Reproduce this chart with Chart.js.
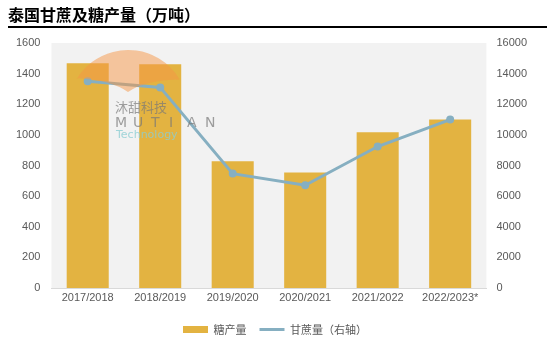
<!DOCTYPE html>
<html>
<head>
<meta charset="utf-8">
<script src="https://cdn.jsdelivr.net/npm/chart.js@4/dist/chart.umd.min.js"></script>
<style>
  body { margin: 0; background: #fff; }
  #wrap { position: relative; width: 547px; height: 346px; }
  #title {
    position: absolute; left: 8px; top: 3px; right: 0;
    font: bold 16px "Noto Sans CJK SC", sans-serif; color: #000;
    border-bottom: 2px solid #000; padding-bottom: 1px; line-height: 22px;
  }
  canvas { position: absolute; left: 0; top: 0; }
</style>
</head>
<body>
<div id="wrap">
  <canvas id="chart" width="547" height="346"></canvas>
  <div id="title">泰国甘蔗及糖产量（万吨）</div>
</div>
<script>
// data
const seasons = ["2017/2018", "2018/2019", "2019/2020", "2020/2021", "2021/2022", "2022/2023*"];
const sugarOutput = [1468, 1461, 827, 755, 1017, 1101];      // 糖产量, left axis
const caneOutput = [13500, 13100, 7470, 6710, 9240, 11000];  // 甘蔗量, right axis

const barColor = "#E3B341";
const lineColor = "#86AFC1";
const tickColor = "#595959";

// grey plot background
const plotBg = {
  id: "plotBg",
  beforeDraw(chart) {
    const { ctx, chartArea: a } = chart;
    ctx.save();
    ctx.fillStyle = "#F2F2F2";
    ctx.fillRect(a.left, a.top, a.right - a.left, a.bottom - a.top);
    ctx.restore();
  },
};

// nudge the legend a little to the right, like the original
const legendShift = {
  id: "legendShift",
  afterLayout(chart) {
    chart.legend.left += 4;
    chart.legend.right += 4;
  },
};

// faint company watermark on top of the bars
const watermark = {
  id: "watermark",
  afterDatasetsDraw(chart) {
    const ctx = chart.ctx;
    ctx.save();
    ctx.fillStyle = "rgba(246,150,70,0.5)";
    ctx.beginPath();
    ctx.arc(128, 110, 60, Math.PI * 1.17, Math.PI * 1.83);
    ctx.quadraticCurveTo(145, 80, 128, 92);
    ctx.quadraticCurveTo(111, 80, 77, 78);
    ctx.closePath();
    ctx.fill();
    ctx.fillStyle = "rgba(120,120,120,0.7)";
    ctx.font = "13px 'Noto Sans CJK SC'";
    ctx.fillText("沐甜科技", 115, 107);
    ctx.font = "14px 'DejaVu Sans'";
    const letters = "MUTIAN";
    for (let i = 0; i < letters.length; i++) {
      ctx.fillText(letters[i], 115 + i * 18, 123);
    }
    ctx.fillStyle = "rgba(140,205,210,0.8)";
    ctx.font = "11px 'DejaVu Sans'";
    ctx.fillText("Technology", 116, 135);
    ctx.restore();
  },
};

new Chart(document.getElementById("chart"), {
  data: {
    labels: seasons,
    datasets: [
      {
        type: "line",
        label: "甘蔗量（右轴）",
        data: caneOutput,
        yAxisID: "y2",
        borderColor: lineColor,
        backgroundColor: lineColor,
        borderWidth: 3,
        pointRadius: 4,
        pointBorderWidth: 0,
        pointBackgroundColor: lineColor,
        tension: 0,
        order: 0,
      },
      {
        type: "bar",
        label: "糖产量",
        data: sugarOutput,
        yAxisID: "y",
        backgroundColor: barColor,
        categoryPercentage: 1,
        barPercentage: 0.58,
        order: 1,
      },
    ],
  },
  plugins: [plotBg, legendShift, watermark],
  options: {
    responsive: false,
    animation: false,
    layout: { padding: { top: 43, right: 10, left: 5, bottom: 1 } },
    scales: {
      x: {
        grid: { display: false, drawTicks: false },
        border: { color: "#D9D9D9", width: 1 },
        ticks: { color: tickColor, font: { size: 11 }, padding: 3 },
        afterFit(scale) {
          scale.height = 23;
        },
      },
      y: {
        position: "left",
        min: 0, max: 1600,
        grid: { display: false, drawTicks: false },
        border: { display: false },
        ticks: {
          stepSize: 200, color: tickColor, font: { size: 11 }, padding: 11,
          callback: (v) => String(v),
        },
      },
      y2: {
        position: "right",
        min: 0, max: 16000,
        grid: { display: false, drawTicks: false },
        border: { display: false },
        ticks: {
          stepSize: 2000, color: tickColor, font: { size: 11 }, padding: 10,
          callback: (v) => String(v),
        },
      },
    },
    plugins: {
      tooltip: { enabled: false },
      legend: {
        position: "bottom",
        reverse: true,
        labels: {
          color: tickColor,
          font: { size: 11, family: "'Noto Sans CJK SC'" },
          usePointStyle: true,
          pointStyleWidth: 25,
          boxHeight: 7,
          padding: 13,
          generateLabels(chart) {
            return chart.data.datasets.map((ds, i) => ({
              text: ds.label,
              fillStyle: ds.type === "bar" ? barColor : lineColor,
              strokeStyle: ds.type === "bar" ? barColor : lineColor,
              lineWidth: ds.type === "bar" ? 0 : 3,
              pointStyle: ds.type === "bar" ? "rect" : "line",
              fontColor: tickColor,
              datasetIndex: i,
              hidden: false,
            }));
          },
        },
      },
    },
  },
});
</script>
</body>
</html>
